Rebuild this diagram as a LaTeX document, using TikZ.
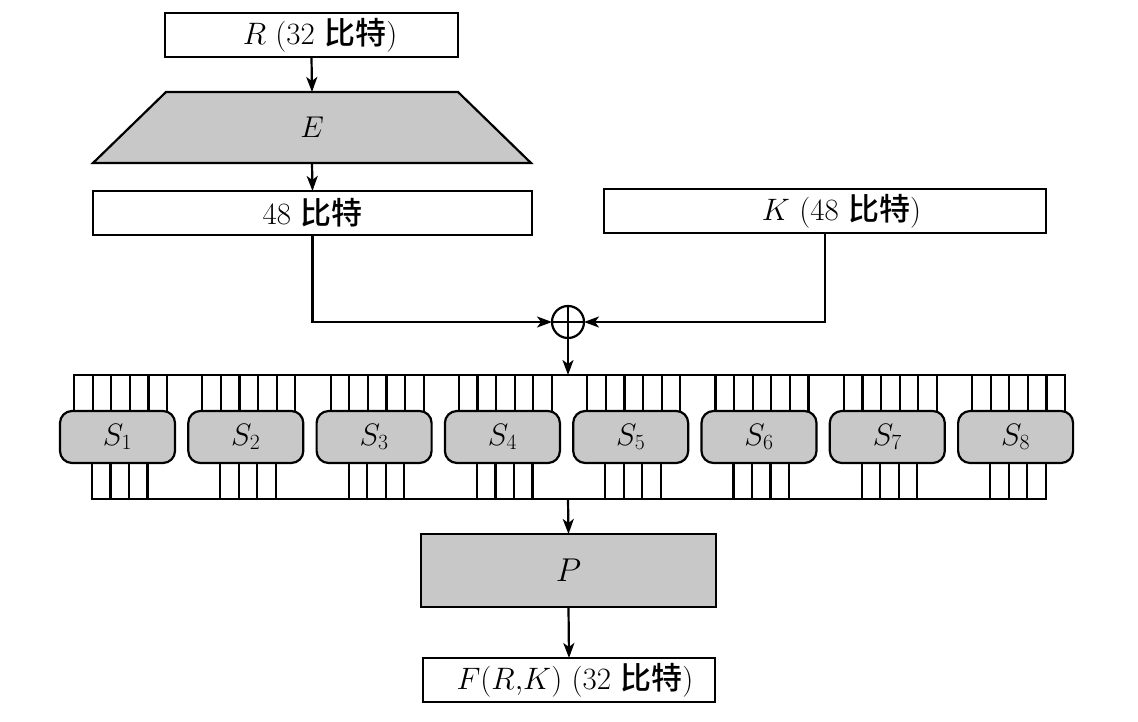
\RequirePackage{fix-cm}
\documentclass[tikz,border=0pt]{standalone}
\usepackage{fontspec}
\newfontfamily\cjk{Noto Sans CJK SC}[UprightFont={* Medium}]
\usetikzlibrary{arrows.meta}
\definecolor{boxgray}{RGB}{200,200,200}
\newcommand{\bt}{{\cjk 比特}}
\begin{document}
\begin{tikzpicture}[x=1pt,y=-1pt,line width=2.2pt,
  txt/.style={font=\fontsize{31}{35}\selectfont},
  whitebox/.style={draw,rectangle,inner sep=0pt,outer sep=0pt,txt},
  graybox/.style={draw,rectangle,fill=boxgray,inner sep=0pt,outer sep=0pt},
  sbox/.style={draw,rectangle,rounded corners=12pt,fill=boxgray,inner sep=0pt,outer sep=0pt,
    minimum width=115pt,minimum height=52pt,font=\fontsize{31}{34}\selectfont},
  xorc/.style={draw,circle,minimum size=32pt,inner sep=0pt,outer sep=0pt},
  arr/.style={-{Stealth[length=15pt,width=11pt,inset=4pt]}},
  wire/.style={line cap=rect}
]
\useasboundingbox (0,0) rectangle (1138,722);

% top part
\node[whitebox,minimum width=293pt,minimum height=44pt] (R) at (311.5,35) {\hspace*{17pt}$R$ (32 \bt)};

\coordinate (Etop) at (312,92);
\coordinate (Ebot) at (312,163);
\draw[fill=boxgray,line join=miter] (166,92) -- (458,92) -- (531,163) -- (93,163) -- cycle;
\node[inner sep=0pt,font=\fontsize{30}{33}\selectfont] (E) at (312,127.5) {$E$};

\node[whitebox,minimum width=439pt,minimum height=44pt] (B48) at (312.5,213) {48 \bt};
\node[whitebox,minimum width=442pt,minimum height=44pt] (K) at (825,211) {\hspace*{33pt}$K$ (48 \bt)};

\node[xorc] (xor) at (568,322) {};
\draw (xor.north) -- (xor.south) (xor.west) -- (xor.east);

\draw[arr] (R.south) -- (Etop);
\draw[arr] (Ebot) -- (B48.north);
\draw[arr] (B48.south) |- (xor.west);
\draw[arr] (K.south) |- (xor.east);

\coordinate (bustop) at (568,375);
\coordinate (busbot) at (568,499);
\draw[arr] (xor.south) -- (bustop);

% S boxes
\foreach \i in {1,...,8}{
  \pgfmathsetmacro\L{60+128.3*(\i-1)}
  \node[sbox] (s\i) at (\L+57.5,437) {$S_{\i}$};
  \foreach \k in {0,...,5}{
    \draw[wire] ({\L+14+18.6*\k},375) coordinate (t) -- (t |- s\i.north);
  }
  \foreach \k in {0,...,3}{
    \draw[wire] ({\L+32+18.5*\k},499) coordinate (b) -- (b |- s\i.south);
  }
}
\draw[wire] (74,375) -- (bustop) -- (1065.1,375);
\draw[wire] (92,499) -- (busbot) -- (1045.5,499);

% bottom part
\node[graybox,minimum width=295pt,minimum height=73pt,font=\fontsize{33}{37}\selectfont] (P) at (568.5,570.5) {$P$};
\node[whitebox,minimum width=292pt,minimum height=44pt] (F) at (569,680) {\hspace*{12pt}$F(R{,}K)$ (32 \bt)};

\draw[arr] (busbot) -- (P.north);
\draw[arr] (P.south) -- (F.north);
\end{tikzpicture}
\end{document}
